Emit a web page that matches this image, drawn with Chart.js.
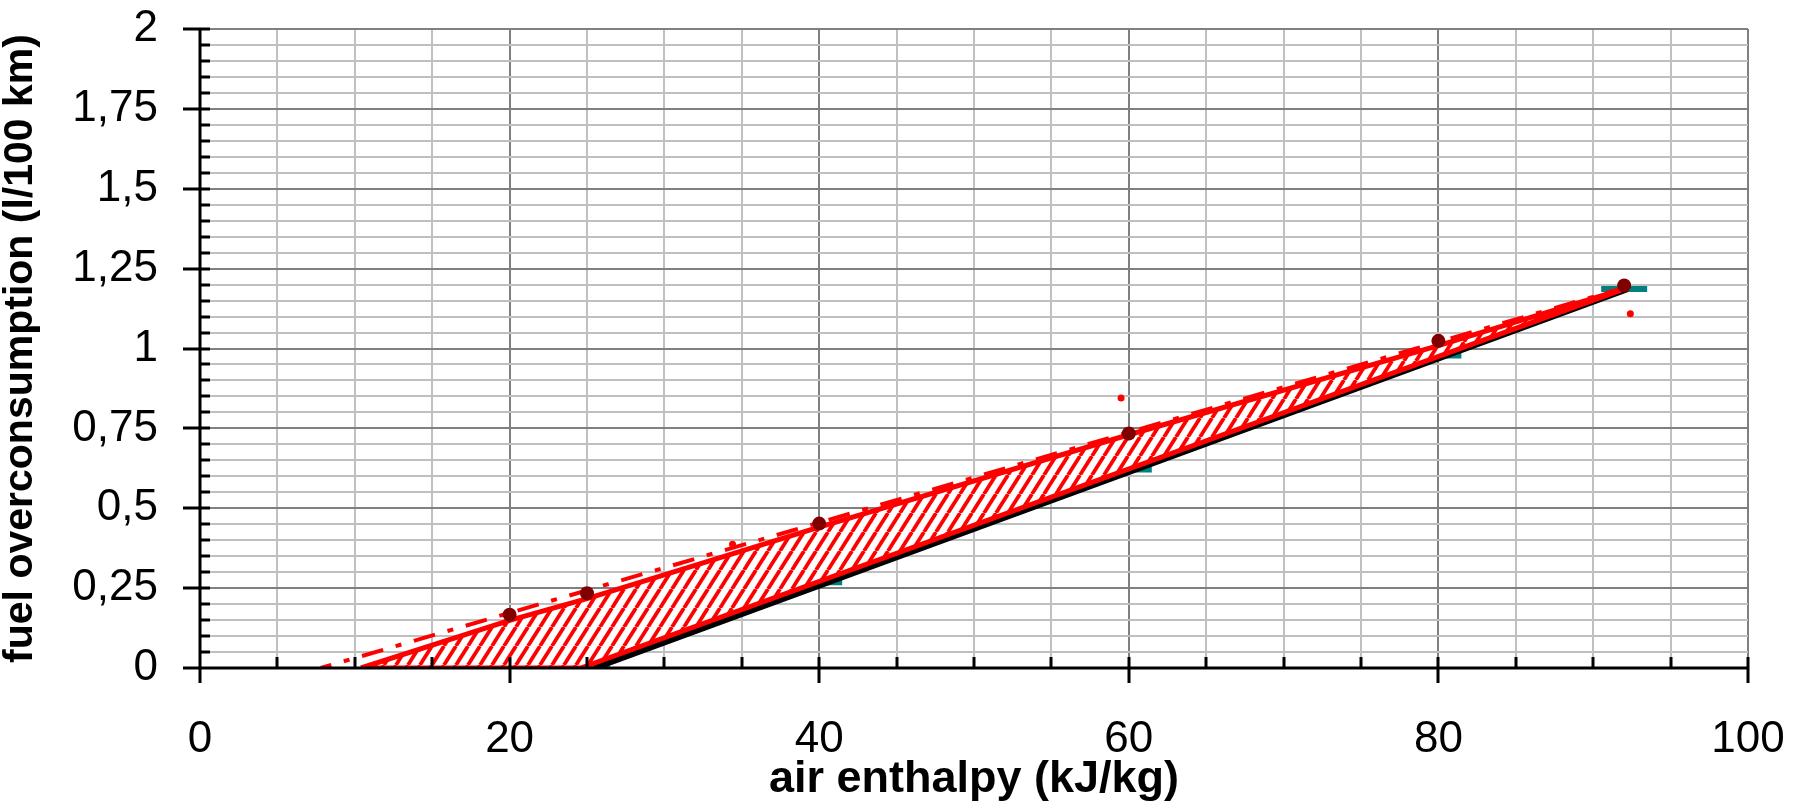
<!DOCTYPE html>
<html>
<head>
<meta charset="utf-8">
<script src="https://cdn.jsdelivr.net/npm/chart.js@4.4.1/dist/chart.umd.min.js"></script>
<style>
  body { margin: 0; background: #fff; }
  canvas { display: block; }
</style>
</head>
<body>
<canvas id="chart" width="1799" height="806"></canvas>
<script>
// axis ticks
const xTickValues = [0, 20, 40, 60, 80, 100];
const xTickLabels = ['0', '20', '40', '60', '80', '100'];
const yTickValues = [0, 0.25, 0.5, 0.75, 1, 1.25, 1.5, 1.75, 2];
const yTickLabels = ['0', '0,25', '0,5', '0,75', '1', '1,25', '1,5', '1,75', '2'];

// measured points (dark red)
const dotX = [20, 25, 40, 60, 80, 92];
const dotY = [0.167, 0.234, 0.452, 0.734, 1.024, 1.197];

// small red points
const smallX = [34.4, 59.5, 92.4];
const smallY = [0.387, 0.845, 1.109];

// teal dash markers
const tealX = [25, 40, 60, 80, 92];
const tealY = [0.0, 0.268, 0.621, 0.978, 1.186];

// black line
const blackX = [25.5, 92.2];
const blackY = [0, 1.186];

// red dash-dot line
const dashX = [7.8, 92];
const dashY = [0, 1.19];

// hatched band: upper edge then back along the lower edge
const bandX = [10.4, 20, 25, 40, 60, 80, 92.2, 24.6, 10.4];
const bandY = [0, 0.149, 0.217, 0.441, 0.73, 1.009, 1.19, 0, 0];

const zip = (xs, ys) => xs.map((x, i) => ({ x: x, y: ys[i] }));
const isIn = (list, v) => list.some(t => Math.abs(t - v) < 1e-9);

// red diagonal hatch on white
function makeHatch() {
  const w = 12, h = 19;
  const c = document.createElement('canvas');
  c.width = w; c.height = h;
  const g = c.getContext('2d');
  g.fillStyle = '#ffffff';
  g.fillRect(0, 0, w, h);
  g.strokeStyle = '#ff0000';
  g.lineWidth = 3.8;
  for (let k = -1; k <= 1; k++) {
    g.beginPath();
    g.moveTo(k * w, h);
    g.lineTo(k * w + w, 0);
    g.stroke();
  }
  return g.createPattern(c, 'repeat');
}

// black axis lines and tick marks, drawn over the data like the original
const axisTicks = {
  id: 'axisTicks',
  afterDatasetsDraw(chart) {
    const { ctx, chartArea: a, scales: { x, y } } = chart;
    ctx.save();
    ctx.strokeStyle = '#000';
    ctx.lineWidth = 3;
    ctx.beginPath();
    y.ticks.forEach(t => {
      const py = Math.round(y.getPixelForValue(t.value));
      ctx.moveTo(a.left - (isIn(yTickValues, t.value) ? 17 : 0), py);
      ctx.lineTo(a.left + 10, py);
    });
    x.ticks.forEach(t => {
      const px = Math.round(x.getPixelForValue(t.value));
      ctx.moveTo(px, a.bottom - 11);
      ctx.lineTo(px, a.bottom + (isIn(xTickValues, t.value) ? 15 : 0));
    });
    ctx.moveTo(a.left, a.top);
    ctx.lineTo(a.left, a.bottom);
    ctx.moveTo(a.left, a.bottom);
    ctx.lineTo(a.right, a.bottom);
    ctx.stroke();
    ctx.restore();
  }
};

const font = '"Liberation Sans", Arial, sans-serif';

new Chart(document.getElementById('chart'), {
  type: 'line',
  data: {
    datasets: [
      {
        data: zip(smallX, smallY),
        showLine: false,
        pointRadius: 3.5,
        pointBackgroundColor: '#ff0000',
        pointBorderWidth: 0
      },
      {
        data: zip(dotX, dotY),
        showLine: false,
        pointRadius: 7,
        pointBackgroundColor: '#800000',
        pointBorderWidth: 0
      },
      {
        data: zip(dashX, dashY),
        borderColor: '#ff0000',
        borderWidth: 4,
        borderDash: [22, 13, 6, 13],
        borderDashOffset: 11,
        pointRadius: 0,
        tension: 0
      },
      {
        data: zip(bandX, bandY),
        borderColor: '#ff0000',
        borderWidth: 5,
        backgroundColor: makeHatch(),
        fill: 'shape',
        pointRadius: 0,
        tension: 0
      },
      {
        data: zip(blackX, blackY),
        borderColor: '#000000',
        borderWidth: 6,
        pointRadius: 0,
        tension: 0
      },
      {
        data: zip(tealX, tealY),
        showLine: false,
        pointStyle: 'line',
        pointRadius: 23,
        pointBorderWidth: 6,
        pointBorderColor: '#008080'
      }
    ]
  },
  options: {
    responsive: false,
    animation: false,
    layout: { padding: { top: 24, right: 51, left: 0, bottom: 0 } },
    plugins: {
      legend: { display: false },
      tooltip: { enabled: false }
    },
    scales: {
      x: {
        type: 'linear',
        min: 0,
        max: 100,
        afterFit: s => { s.height = 138; },
        border: { display: false },
        grid: {
          drawTicks: true,
          tickLength: 48,
          tickColor: 'rgba(0,0,0,0)',
          lineWidth: 2,
          color: c => isIn(xTickValues, c.tick.value) ? '#808080' : '#c0c0c0'
        },
        ticks: {
          stepSize: 5,
          autoSkip: false,
          maxRotation: 0,
          padding: 2,
          color: '#000',
          font: { family: font, size: 44, lineHeight: 1 },
          callback: v => {
            const i = xTickValues.findIndex(t => Math.abs(t - v) < 1e-9);
            return i >= 0 ? xTickLabels[i] : '';
          }
        },
        title: {
          display: true,
          text: 'air enthalpy (kJ/kg)',
          color: '#000',
          padding: { top: 0, bottom: 4 },
          font: { family: font, size: 45, weight: 'bold', lineHeight: 1 }
        }
      },
      y: {
        type: 'linear',
        min: 0,
        max: 2,
        afterFit: s => { s.width = 200; },
        border: { display: false },
        grid: {
          drawTicks: true,
          tickLength: 40,
          tickColor: 'rgba(0,0,0,0)',
          lineWidth: 2,
          color: c => isIn(yTickValues, c.tick.value) ? '#808080' : '#c0c0c0'
        },
        ticks: {
          stepSize: 0.05,
          autoSkip: false,
          padding: 2,
          color: '#000',
          font: { family: font, size: 44, lineHeight: 1 },
          callback: v => {
            const i = yTickValues.findIndex(t => Math.abs(t - v) < 1e-9);
            return i >= 0 ? yTickLabels[i] : '';
          }
        },
        title: {
          display: true,
          text: 'fuel overconsumption (l/100 km)',
          color: '#000',
          padding: { top: 0, bottom: 0 },
          font: { family: font, size: 41, weight: 'bold', lineHeight: 1 }
        }
      }
    }
  },
  plugins: [axisTicks]
});
</script>
</body>
</html>
